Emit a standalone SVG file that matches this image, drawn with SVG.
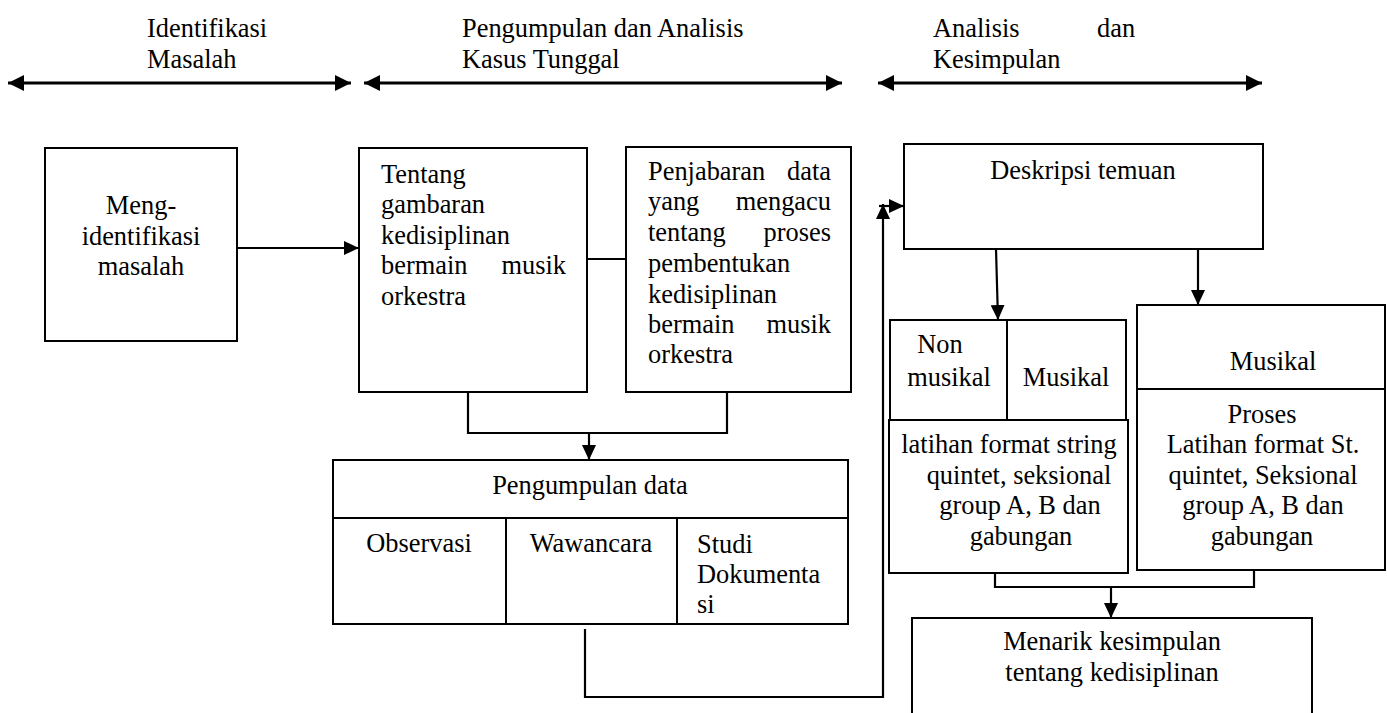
<svg xmlns="http://www.w3.org/2000/svg" width="1387" height="713" viewBox="0 0 1387 713">
<style>
  text { font-family: "Liberation Serif", "Times New Roman", serif; font-size: 26.4px; fill: #000; }
  .c { text-anchor: middle; }
  .e { text-anchor: end; }
  .box { fill: #fff; stroke: #000; stroke-width: 2; }
  .ln { fill: none; stroke: #000; stroke-width: 2; }
  .conn path { fill: none; stroke: #000; stroke-width: 2.2; }
  .phase { fill: none; stroke: #000; stroke-width: 3.2; }
</style>
<defs>
  <marker id="ah" viewBox="0 0 16 16" refX="16" refY="8" markerWidth="16" markerHeight="16" markerUnits="userSpaceOnUse" orient="auto-start-reverse">
    <path d="M0,0 L16,8 L0,16 z" fill="#000"/>
  </marker>
  <marker id="ar" viewBox="0 0 15 14" refX="15" refY="7" markerWidth="15" markerHeight="14" markerUnits="userSpaceOnUse" orient="auto">
    <path d="M0,0 L15,7 L0,14 z" fill="#000"/>
  </marker>
</defs>
<rect width="1387" height="713" fill="#fff"/>

<g id="phases">
  <text x="147" y="37">Identifikasi</text>
  <text x="147" y="68">Masalah</text>
  <text x="462" y="37">Pengumpulan dan Analisis</text>
  <text x="462" y="68">Kasus Tunggal</text>
  <text y="37"><tspan x="933">Analisis</tspan><tspan x="1097">dan</tspan></text>
  <text x="933" y="68">Kesimpulan</text>
  <path class="phase" d="M8,83 H351" marker-start="url(#ah)" marker-end="url(#ah)"/>
  <path class="phase" d="M364,83 H842" marker-start="url(#ah)" marker-end="url(#ah)"/>
  <path class="phase" d="M878,83 H1262" marker-start="url(#ah)" marker-end="url(#ah)"/>
</g>

<g id="node-identifikasi">
  <rect class="box" x="45" y="148" width="192" height="193"/>
  <text class="c" x="141" y="214">Meng-</text>
  <text class="c" x="141" y="245">identifikasi</text>
  <text class="c" x="141" y="275">masalah</text>
</g>

<g id="node-tentang">
  <rect class="box" x="359" y="148" width="228" height="244"/>
  <text x="381" y="183">Tentang</text>
  <text x="381" y="213">gambaran</text>
  <text x="381" y="244">kedisiplinan</text>
  <text x="381" y="274">bermain</text>
  <text class="e" x="566" y="274">musik</text>
  <text x="381" y="305">orkestra</text>
</g>

<g id="node-penjabaran">
  <rect class="box" x="626" y="147" width="225" height="245"/>
  <text x="648" y="180">Penjabaran</text>
  <text class="e" x="831" y="180">data</text>
  <text x="648" y="210">yang</text>
  <text class="e" x="831" y="210">mengacu</text>
  <text x="648" y="241">tentang</text>
  <text class="e" x="831" y="241">proses</text>
  <text x="648" y="272">pembentukan</text>
  <text x="648" y="303">kedisiplinan</text>
  <text x="648" y="333">bermain</text>
  <text class="e" x="831" y="333">musik</text>
  <text x="648" y="363">orkestra</text>
</g>

<g id="node-pengumpulan">
  <rect class="box" x="333" y="460" width="515" height="164"/>
  <path class="ln" d="M333,518 H848 M506,518 V624 M677,518 V624"/>
  <text class="c" x="590" y="494">Pengumpulan data</text>
  <text class="c" x="419" y="552">Observasi</text>
  <text class="c" x="591" y="552">Wawancara</text>
  <text x="697" y="553">Studi</text>
  <text x="697" y="583">Dokumenta</text>
  <text x="697" y="613">si</text>
</g>

<g id="node-deskripsi">
  <rect class="box" x="904" y="144" width="359" height="105"/>
  <text class="c" x="1083" y="179">Deskripsi temuan</text>
</g>

<g id="node-nonmusikal">
  <rect class="box" x="890" y="320" width="236" height="100"/>
  <path class="ln" d="M1007,320 V420"/>
  <text class="c" x="940" y="353">Non</text>
  <text class="c" x="949" y="386">musikal</text>
  <text class="c" x="1066" y="386">Musikal</text>
  <rect class="box" x="889" y="420" width="239" height="153"/>
  <text class="c" x="1009" y="453">latihan format string</text>
  <text class="c" x="1019" y="484">quintet, seksional</text>
  <text class="c" x="1020" y="514">group A, B dan</text>
  <text class="c" x="1021" y="545">gabungan</text>
</g>

<g id="node-musikal">
  <rect class="box" x="1137" y="305" width="248" height="265"/>
  <path class="ln" d="M1137,389 H1385"/>
  <text class="c" x="1273" y="370">Musikal</text>
  <text class="c" x="1262" y="423">Proses</text>
  <text class="c" x="1263" y="453">Latihan format St.</text>
  <text class="c" x="1263" y="484">quintet, Seksional</text>
  <text class="c" x="1263" y="514">group A, B dan</text>
  <text class="c" x="1262" y="545">gabungan</text>
</g>

<g id="node-menarik">
  <rect class="box" x="912" y="618" width="400" height="120"/>
  <text class="c" x="1112" y="650">Menarik kesimpulan</text>
  <text class="c" x="1112" y="681">tentang kedisiplinan</text>
</g>

<g id="connectors" class="conn">
  <path d="M237,248 H359" marker-end="url(#ar)"/>
  <path d="M587,259 H626"/>
  <path d="M468,392 V433 H727 V392"/>
  <path d="M589,433 V460" marker-end="url(#ar)"/>
  <path d="M585,629 V697 H883 V204" marker-end="url(#ar)"/>
  <path d="M879,206 H904" marker-end="url(#ar)"/>
  <path d="M996,249 L998,320" marker-end="url(#ar)"/>
  <path d="M1198,249 V305" marker-end="url(#ar)"/>
  <path d="M995,573 V587 H1254 V570"/>
  <path d="M1111,587 V618" marker-end="url(#ar)"/>
</g>
</svg>
